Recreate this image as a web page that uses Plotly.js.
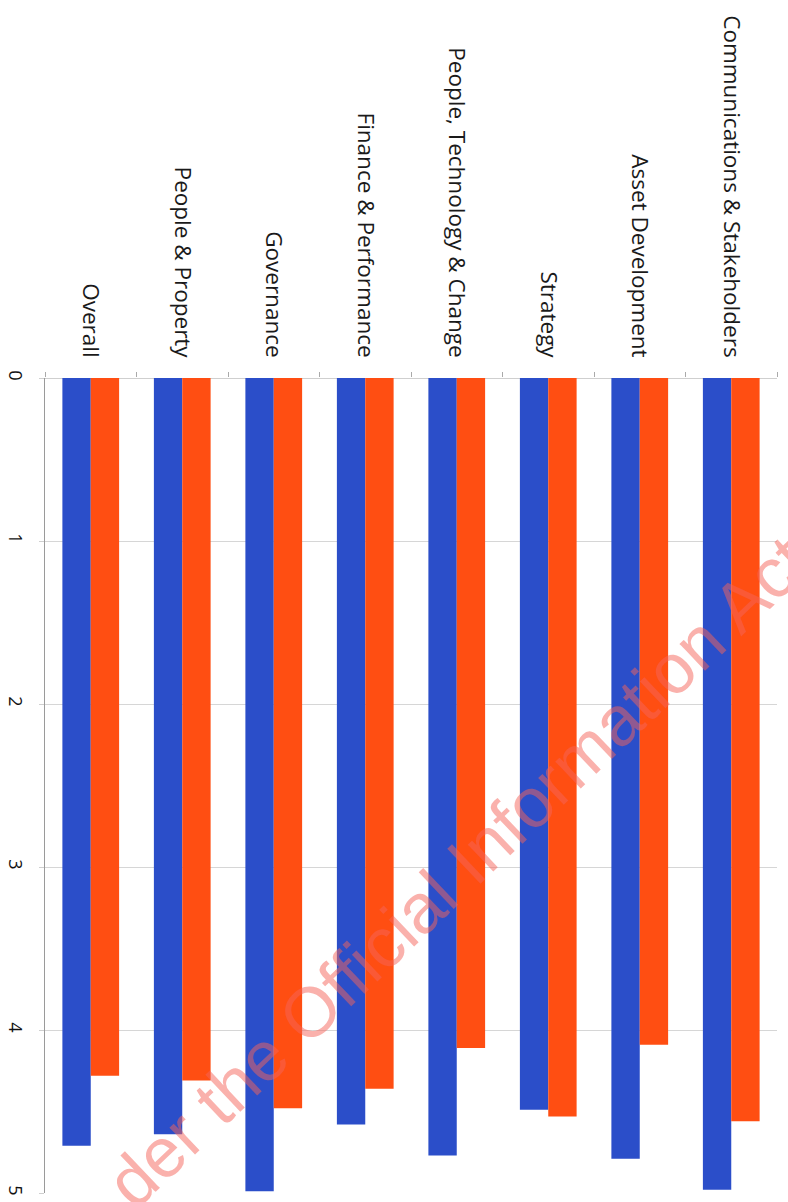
<!DOCTYPE html>
<html>
<head>
<meta charset="utf-8">
<script src="https://cdn.plot.ly/plotly-3.0.1.min.js"></script>
<style>html,body{margin:0;padding:0;background:#fff;}#chart{width:788px;height:1202px;}</style>
</head>
<body>
<div id="chart"></div>
<script>
const categories = ["Overall", "People & Property", "Governance", "Finance & Performance",
  "People, Technology & Change", "Strategy", "Asset Development", "Communications & Stakeholders"];
const seriesA = [4.71, 4.64, 4.99, 4.58, 4.77, 4.49, 4.79, 4.98];
const seriesB = [4.28, 4.31, 4.48, 4.36, 4.11, 4.53, 4.09, 4.56];
const valueTicks = [0, 1, 2, 3, 4, 5];
const watermark = "der the Official Information Act";

const traces = [
  {type: "bar", x: categories, y: seriesA, marker: {color: "#2B4EC9"}, name: "A"},
  {type: "bar", x: categories, y: seriesB, marker: {color: "#FF4E12"}, name: "B"}
];

const layout = {
  width: 788, height: 1202,
  margin: {l: 45, r: 11, t: 378, b: 9},
  paper_bgcolor: "#fff", plot_bgcolor: "#fff",
  showlegend: false,
  barmode: "group", bargap: 0.38, bargroupgap: 0,
  font: {family: "Open Sans, sans-serif", color: "#111"},
  xaxis: {
    side: "top", type: "category", tickangle: 90,
    tickfont: {size: 22.5, family: "Open Sans, sans-serif", color: "#1a1a1a"},
    ticks: "outside", tickson: "boundaries", ticklen: 5, tickcolor: "#aaa",
    ticklabelstandoff: 16,
    showline: false, showgrid: false, automargin: false
  },
  yaxis: {
    range: [5, 0], tickvals: valueTicks, ticktext: valueTicks.map(String),
    tickangle: 90, tickfont: {size: 18, color: "#111"},
    showgrid: true, gridcolor: "#d6d6d6", gridwidth: 1,
    zeroline: true, zerolinecolor: "#cfcfcf",
    showline: true, linecolor: "#9a9a9a", linewidth: 1,
    ticks: "outside", ticklen: 5, tickcolor: "#cfcfcf",
    ticklabelstandoff: 8, automargin: false
  },
  annotations: [{
    xref: "paper", yref: "paper", x: 0.564, y: 0.394,
    text: watermark, showarrow: false, textangle: -43.5,
    font: {size: 70, family: "Liberation Sans, Arial, sans-serif", color: "rgba(245,100,90,0.5)"}
  }]
};

Plotly.newPlot("chart", traces, layout, {staticPlot: true});
</script>
</body>
</html>
